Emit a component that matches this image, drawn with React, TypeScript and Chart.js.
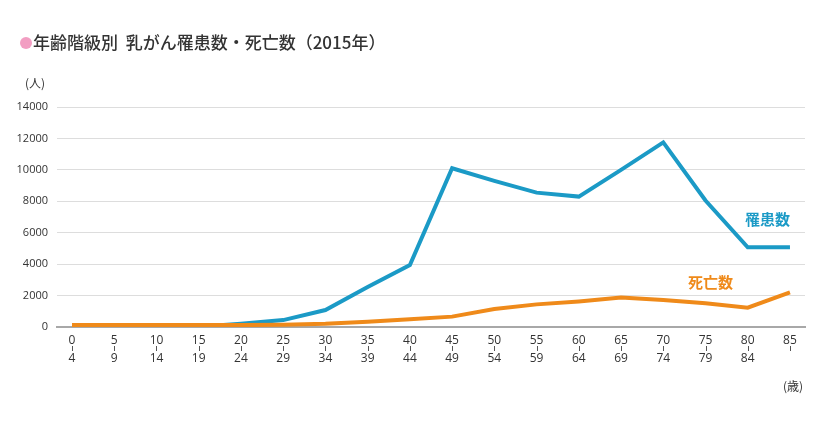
import React, { useEffect, useRef } from "react";
import { Chart, registerables } from "chart.js";

Chart.register(...registerables);

const ageStart = ["0", "5", "10", "15", "20", "25", "30", "35", "40", "45", "50", "55", "60", "65", "70", "75", "80", "85"];
const ageEnd = ["4", "9", "14", "19", "24", "29", "34", "39", "44", "49", "54", "59", "64", "69", "74", "79", "84", ""];
const incidence = [0, 0, 0, 10, 200, 440, 1080, 2550, 3950, 10100, 9300, 8550, 8300, 10000, 11750, 8050, 5070, 5070];
const deaths = [120, 120, 120, 120, 120, 150, 210, 340, 490, 660, 1150, 1440, 1630, 1870, 1720, 1510, 1230, 2210];
const yTicks = [0, 2000, 4000, 6000, 8000, 10000, 12000, 14000];

const BLUE = "#1b9ac6";
const ORANGE = "#ef8a1a";
const TEXT = "#333333";
const JP = "'Noto Sans CJK JP', 'Noto Sans', sans-serif";
const NUM = "'Open Sans', 'Noto Sans', sans-serif";

const decorPlugin = {
  id: "decor",
  afterDraw(chart: any) {
    const ctx = chart.ctx as CanvasRenderingContext2D;
    const xs = chart.scales.x;
    ctx.save();
    // tick separators between age start/end
    ctx.strokeStyle = "#555";
    ctx.lineWidth = 1;
    ageStart.forEach((_, i) => {
      const px = Math.round(xs.getPixelForValue(i)) + 0.5;
      ctx.beginPath();
      ctx.moveTo(px, 346);
      ctx.lineTo(px, 351);
      ctx.stroke();
    });
    // title
    ctx.fillStyle = "#f29ec2";
    ctx.beginPath();
    ctx.arc(26, 43, 6, 0, Math.PI * 2);
    ctx.fill();
    ctx.fillStyle = TEXT;
    ctx.textBaseline = "middle";
    ctx.textAlign = "left";
    ctx.font = `500 17px ${JP}`;
    ctx.fillText("年齢階級別  乳がん罹患数・死亡数（2015年）", 33, 43);
    // unit labels
    ctx.font = `400 12px ${JP}`;
    ctx.fillText("(人)", 25, 83);
    ctx.fillText("(歳)", 783, 386);
    // series labels
    ctx.font = `700 15px ${JP}`;
    ctx.fillStyle = BLUE;
    ctx.fillText("罹患数", 745, 219);
    ctx.fillStyle = ORANGE;
    ctx.fillText("死亡数", 688, 282);
    ctx.restore();
  },
};

export default function App() {
  const ref = useRef<HTMLCanvasElement | null>(null);
  useEffect(() => {
    document.body.style.margin = "0";
    const canvas = ref.current;
    if (!canvas) return;
    const chart = new Chart(canvas, {
      type: "line",
      data: {
        datasets: [
          {
            label: "罹患数",
            data: incidence.map((v, i) => ({ x: i, y: v })),
            borderColor: BLUE,
            borderWidth: 4,
            pointRadius: 0,
            tension: 0,
            fill: false,
            order: 2,
          },
          {
            label: "死亡数",
            data: deaths.map((v, i) => ({ x: i, y: v })),
            borderColor: ORANGE,
            borderWidth: 4,
            pointRadius: 0,
            tension: 0,
            fill: false,
            order: 1,
          },
        ],
      },
      options: {
        animation: false,
        responsive: false,
        devicePixelRatio: 1,
        layout: { padding: { left: 0, right: 15, top: 107, bottom: 0 } },
        plugins: { legend: { display: false }, tooltip: { enabled: false }, title: { display: false } },
        scales: {
          x: {
            type: "linear",
            min: -0.356,
            max: ageStart.length - 1 + 0.356,
            afterBuildTicks: (scale: any) => {
              scale.ticks = ageStart.map((_, i) => ({ value: i }));
            },
            afterFit: (scale: any) => {
              scale.height = 99;
            },
            grid: { display: false, drawTicks: false },
            border: { display: true, color: "#a8a8a8", width: 2 },
            ticks: {
              autoSkip: false,
              maxRotation: 0,
              padding: 5,
              color: TEXT,
              font: { family: NUM, size: 12, lineHeight: "18px" },
              callback: (v: any) => {
                const i = Math.round(Number(v));
                return [ageStart[i], ageEnd[i]];
              },
            },
          },
          y: {
            min: 0,
            max: 14000,
            afterBuildTicks: (scale: any) => {
              scale.ticks = yTicks.map((v) => ({ value: v }));
            },
            afterFit: (scale: any) => {
              scale.width = 57;
            },
            grid: { color: "#dddddd", lineWidth: 1, drawTicks: false },
            border: { display: false },
            ticks: {
              padding: 9,
              color: TEXT,
              font: { family: NUM, size: 11 },
              callback: (v: any) => String(v),
            },
          },
        },
      },
      plugins: [decorPlugin],
    } as any);
    return () => chart.destroy();
  }, []);
  return (
    <div style={{ position: "absolute", left: 0, top: 0, width: 820, height: 426, background: "#fff" }}>
      <canvas ref={ref} width={820} height={426} style={{ width: 820, height: 426 }} />
    </div>
  );
}
